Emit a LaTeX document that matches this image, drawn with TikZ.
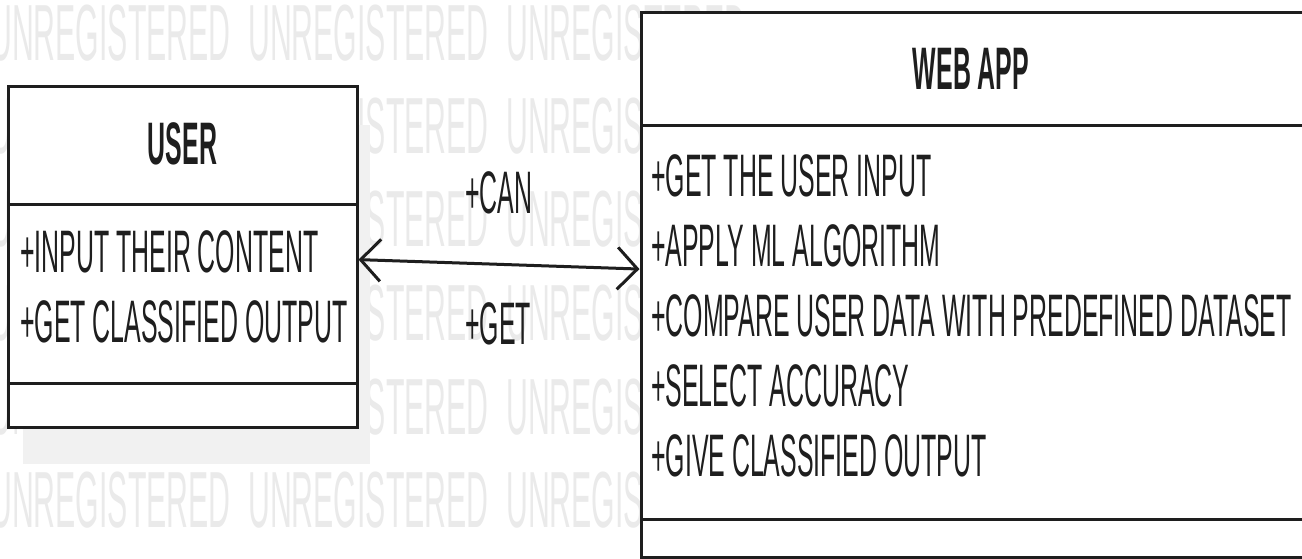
\documentclass[tikz,border=0pt]{standalone}
\usepackage{fontspec}
\setmainfont{Liberation Sans}
\newfontfamily\umlfont[FakeStretch=0.415]{Liberation Sans}
\newfontfamily\wmfont[FakeStretch=0.38]{Liberation Sans}
\usetikzlibrary{arrows.meta,calc}
\definecolor{ink}{HTML}{1E1E1E}
\definecolor{wmgray}{HTML}{EAEAEA}
\definecolor{shadowgray}{HTML}{F1F1F1}
\begin{document}
\begin{tikzpicture}[x=1pt,y=-1pt,
  compart/.style={rectangle, draw=ink, line width=3pt, fill=white, inner sep=0pt},
  attr/.style={font=\umlfont\fontsize{60}{60}\selectfont, text=ink, inner sep=0pt, anchor=base west},
  lbl/.style={font=\umlfont\fontsize{60}{60}\selectfont, text=ink, inner sep=0pt, anchor=base},
  umltitle/.style={font=\umlfont\bfseries\fontsize{60}{60}\selectfont, text=ink, inner sep=0pt, anchor=base},
  wm/.style={font=\wmfont\fontsize{79.6}{80}\selectfont, text=wmgray, inner sep=0pt, anchor=base west},
  conn/.style={draw=ink, line width=3pt, {Straight Barb[length=20pt,width=42pt]}-{Straight Barb[length=20pt,width=42pt]}}
]
\useasboundingbox (0,0) rectangle (1302,559);
\clip (0,0) rectangle (1302,559);
\fill[white] (0,0) rectangle (1302,559);

% watermark
\foreach \r/\yb in {1/61,2/154,3/247,4/340,5/434,6/527}{
  \foreach \c/\xs in {1/-10,2/248,3/506}{
    \node[wm] (wm-\r-\c) at (\xs,\yb) {UNREGISTERED};
  }
}

% shadow of USER box
\fill[shadowgray] (23,125) rectangle (370,464);

% USER class
\node[compart, minimum width=349pt, minimum height=118pt] (user-title) at (182.5,146) {};
\node[compart, minimum width=349pt, minimum height=178pt] (user-attr) at (182.5,294) {};
\node[compart, minimum width=349pt, minimum height=44pt] (user-ops) at (182.5,405) {};
\node[umltitle] (user-name) at (182.5,165) {USER};
\node[attr] (user-a1) at (20,272) {+INPUT THEIR CONTENT};
\node[attr] (user-a2) at (20,342) {+GET CLASSIFIED OUTPUT};

% WEB APP class
\node[compart, minimum width=681pt, minimum height=113pt] (web-title) at (981.5,69.5) {};
\node[compart, minimum width=681pt, minimum height=393pt] (web-attr) at (981.5,322.5) {};
\node[compart, minimum width=681pt, minimum height=38pt] (web-ops) at (981.5,538) {};
\node[umltitle] (web-name) at (971,90) {WEB APP};
\node[attr] (web-a1) at (651,196.5) {+GET THE USER INPUT};
\node[attr] (web-a2) at (651,266.5) {+APPLY ML ALGORITHM};
\node[attr] (web-a3) at (651,336.5) {+COMPARE USER DATA WITH PREDEFINED DATASET};
\node[attr] (web-a4) at (651,406.5) {+SELECT ACCURACY};
\node[attr] (web-a5) at (651,476.5) {+GIVE CLASSIFIED OUTPUT};

% association
\coordinate (pu) at ($(user-attr.north east)!0.31!(user-attr.south east)$);
\coordinate (pw) at ($(web-attr.north west)!0.365!(web-attr.south west)$);
\draw[conn] (pu) -- (pw);
\node[lbl] (can) at (499,213.5) {+CAN};
\node[lbl] (get) at (498,344.5) {+GET};
\end{tikzpicture}
\end{document}
